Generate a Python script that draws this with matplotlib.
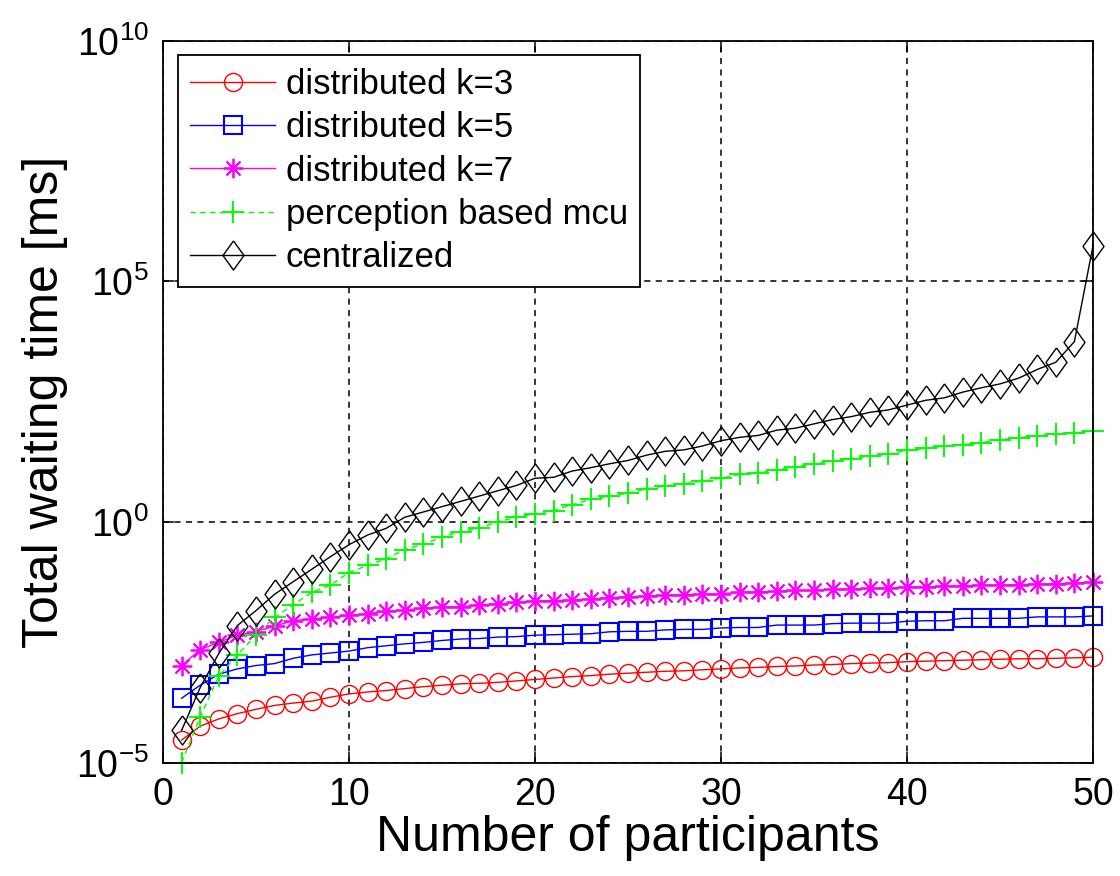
import numpy as np
import matplotlib
matplotlib.use("Agg")
import matplotlib.pyplot as plt

plt.rcParams['font.family'] = ['Liberation Sans', 'DejaVu Sans']

# number of participants
participants = np.arange(1, 51)

# log10 of total waiting time [ms]
log_k3 = [-4.53, -4.24, -4.09, -3.98, -3.89, -3.81, -3.76, -3.72, -3.64, -3.57,
          -3.53, -3.50, -3.46, -3.42, -3.39, -3.36, -3.35, -3.33, -3.30, -3.27,
          -3.24, -3.21, -3.19, -3.16, -3.14, -3.12, -3.10, -3.09, -3.07, -3.05,
          -3.03, -3.02, -3.00, -2.99, -2.97, -2.96, -2.94, -2.93, -2.92, -2.90,
          -2.89, -2.88, -2.87, -2.86, -2.85, -2.84, -2.84, -2.83, -2.82, -2.81]
log_k5 = [-3.66, -3.39, -3.16, -3.05, -2.98, -2.94, -2.83, -2.76, -2.72, -2.68,
          -2.61, -2.57, -2.53, -2.50, -2.46, -2.43, -2.42, -2.39, -2.38, -2.35,
          -2.34, -2.33, -2.32, -2.28, -2.27, -2.27, -2.24, -2.23, -2.23, -2.20,
          -2.19, -2.19, -2.14, -2.14, -2.14, -2.11, -2.10, -2.10, -2.10, -2.06,
          -2.05, -2.05, -2.00, -2.00, -2.00, -2.00, -1.97, -1.97, -1.97, -1.95]
log_k7 = [-2.98, -2.65, -2.50, -2.35, -2.28, -2.16, -2.05, -2.01, -1.98, -1.94,
          -1.90, -1.85, -1.83, -1.79, -1.77, -1.76, -1.72, -1.70, -1.67, -1.64,
          -1.63, -1.62, -1.60, -1.57, -1.55, -1.54, -1.52, -1.51, -1.50, -1.49,
          -1.46, -1.45, -1.44, -1.42, -1.42, -1.40, -1.39, -1.38, -1.37, -1.35,
          -1.35, -1.33, -1.33, -1.31, -1.31, -1.30, -1.29, -1.28, -1.27, -1.25]
log_mcu = [-5.00, -4.05, -3.20, -2.76, -2.35, -1.98, -1.72, -1.46, -1.31, -1.05,
           -0.90, -0.76, -0.57, -0.46, -0.31, -0.20, -0.13, 0.01, 0.10, 0.17,
           0.24, 0.36, 0.47, 0.54, 0.60, 0.69, 0.75, 0.80, 0.85, 0.91,
           0.99, 1.02, 1.08, 1.15, 1.21, 1.27, 1.32, 1.37, 1.41, 1.49,
           1.53, 1.58, 1.61, 1.65, 1.71, 1.75, 1.79, 1.82, 1.86, 1.89]
log_central = [-4.33, -3.44, -2.73, -2.15, -1.84, -1.50, -1.24, -0.98, -0.72, -0.47,
               -0.27, -0.13, 0.10, 0.21, 0.32, 0.43, 0.54, 0.65, 0.76, 0.91,
               0.93, 1.06, 1.13, 1.21, 1.28, 1.39, 1.47, 1.50, 1.58, 1.69,
               1.76, 1.80, 1.91, 1.95, 2.04, 2.13, 2.19, 2.28, 2.33, 2.43,
               2.53, 2.58, 2.70, 2.79, 2.87, 2.99, 3.17, 3.32, 3.75, 5.74]

series_names = ['distributed k=3', 'distributed k=5', 'distributed k=7',
                'perception based mcu', 'centralized']
x_ticks = [0, 10, 20, 30, 40, 50]
y_exponents = [-5, 0, 5, 10]

# matlab style diamond (wider than matplotlib's thin diamond)
diamond = [(0, 1), (0.72, 0), (0, -1), (-0.72, 0), (0, 1)]

fig = plt.figure(figsize=(11.2, 8.76), dpi=100)
ax = fig.add_axes([0.1455, 0.1293, 0.8304, 0.8242])

lw = 1.0
ax.plot(participants, 10.0 ** np.array(log_k3), color='#ff0000', lw=lw,
        marker='o', ms=13, mfc='none', mew=1.0, clip_on=False,
        label=series_names[0])
ax.plot(participants, 10.0 ** np.array(log_k5), color='#0000ff', lw=lw,
        marker='s', ms=13.5, mfc='none', mew=1.5, clip_on=False,
        label=series_names[1])
ax.plot(participants, 10.0 ** np.array(log_k7), color='#ff00ff', lw=lw,
        marker=(8, 2, 0), ms=14, mew=1.3, clip_on=False,
        label=series_names[2])
ax.plot(participants, 10.0 ** np.array(log_mcu), color='#00ff00', lw=lw,
        ls=(0, (4, 3)), marker='+', ms=16, mew=1.4, clip_on=False,
        label=series_names[3])
ax.plot(participants, 10.0 ** np.array(log_central), color='black', lw=lw,
        marker=diamond, ms=21, mfc='none', mew=1.0, clip_on=False,
        label=series_names[4])

ax.set_yscale('log')
ax.set_xlim(0, 50)
ax.set_ylim(1e-5, 1e10)
ax.set_xticks(x_ticks)
ax.set_xticklabels([str(v) for v in x_ticks])
ax.set_yticks([10.0 ** e for e in y_exponents])
ax.set_yticklabels([r'$\mathregular{10^{%d}}$' % e for e in y_exponents])
ax.yaxis.set_minor_locator(matplotlib.ticker.NullLocator())

ax.tick_params(direction='in', length=8, width=1.1, top=True, right=True,
               labelsize=27, pad=10)
for s in ax.spines.values():
    s.set_linewidth(1.3)
ax.grid(True, color='black', ls=(0, (4, 3.5)), lw=1.1)

ax.set_xlabel('Number of participants', fontsize=36, labelpad=2)
ax.set_ylabel('Total waiting time [ms]', fontsize=36, labelpad=6)

leg = ax.legend(loc='upper left', bbox_to_anchor=(0.016, 0.98), fontsize=25,
                fancybox=False, edgecolor='black', framealpha=1,
                handlelength=2.45, borderpad=0.36, labelspacing=0.3,
                handletextpad=0.3, borderaxespad=0)
leg.get_frame().set_linewidth(1.3)

fig.savefig('out.png', dpi=100)
